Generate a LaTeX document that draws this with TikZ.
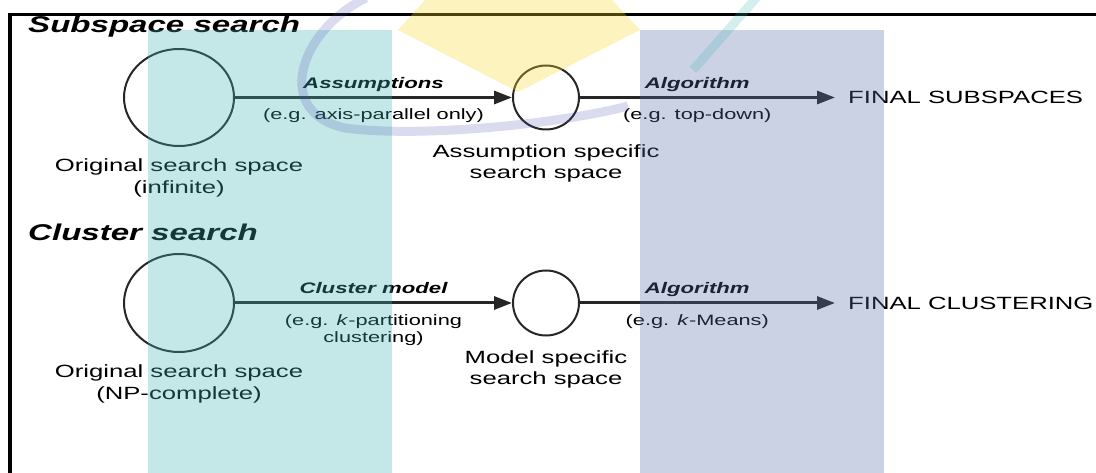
\documentclass[tikz,border=0pt]{standalone}
\usepackage{fontspec}
\setmainfont{Liberation Sans}[FakeStretch=1.45]
\usepackage{tikz}
\usetikzlibrary{arrows.meta,positioning,shapes.geometric}

\definecolor{bandteal}{RGB}{65,180,180}
\definecolor{bandblue}{RGB}{87,110,168}
\definecolor{markyellow}{RGB}{245,216,45}
\definecolor{marklilac}{RGB}{77,77,174}

\begin{document}
\begin{tikzpicture}[x=1pt,y=-1pt,
    spacecirc/.style={ellipse,draw=black!85,line width=2pt,inner sep=0pt},
    caption/.style={align=center,inner sep=0pt,outer sep=0pt,font=\fontsize{17.7}{21.5}\selectfont},
    heading/.style={anchor=base west,inner sep=0pt,font=\fontsize{22.8}{26}\selectfont\bfseries\itshape},
    flow/.style={line width=3pt,draw=black!85,-{Triangle[length=18pt,width=13pt]}},
    via/.style={anchor=base,inner sep=0pt,yshift=9pt,font=\fontsize{15.3}{18}\selectfont\bfseries\itshape},
    eg/.style={anchor=north,align=center,inner sep=0pt,yshift=-10pt,font=\fontsize{15}{17.5}\selectfont},
    result/.style={anchor=west,inner sep=0pt,font=\fontsize{17.7}{21.5}\selectfont},
    wash/.style={opacity=0.31}]
    \useasboundingbox (0,0) rectangle (1096,473);
    \draw[line width=4pt] (10,473) -- (10,13.5);
    \draw[line width=3pt] (8,15) -- (1096,15);

    \node[heading] (h1) at (28,33) {Subspace search};
    \node[spacecirc,minimum width=110pt,minimum height=97pt] (c1) at (179,97.5) {};
    \node[spacecirc,minimum width=66pt,minimum height=64pt] (c2) at (546,97.5) {};
    \coordinate (e1) at (835,97.5);
    \node[result,right=13pt of e1] (f1) {FINAL SUBSPACES};
    \node[caption,below=12pt of c1] (l1) {Original search space\\(infinite)};
    \node[caption,below=14pt of c2] (l2) {Assumption specific\\search space};
    \draw[flow] (c1) -- node[via] {Assumptions} node[eg] {(e.g. axis-parallel only)} (c2);
    \draw[flow] (c2) -- node[via,pos=.46] {Algorithm} node[eg,pos=.46] {(e.g. top-down)} (e1);

    \node[heading] (h2) at (28,241) {Cluster search};
    \node[spacecirc,minimum width=110pt,minimum height=98pt] (c3) at (179,303) {};
    \node[spacecirc,minimum width=66pt,minimum height=65pt] (c4) at (546,303) {};
    \coordinate (e2) at (835,303);
    \node[result,right=13pt of e2] (f2) {FINAL CLUSTERING};
    \node[caption,below=12pt of c3] (l3) {Original search space\\(NP-complete)};
    \node[caption,below=14pt of c4] (l4) {Model specific\\search space};
    \draw[flow] (c3) -- node[via] {Cluster model} node[eg] {(e.g. \textit{k}-partitioning\\clustering)} (c4);
    \draw[flow] (c4) -- node[via,pos=.46] {Algorithm} node[eg,pos=.46] {(e.g. \textit{k}-Means)} (e2);

    \fill[bandteal,wash] (148,30) rectangle (392,473);
    \fill[bandblue,wash] (640,30) rectangle (884,473);
    \fill[markyellow,wash] (425,0) -- (612,0) -- (640,30) -- (518,92) -- (398,30) -- cycle;
    \draw[marklilac,opacity=0.2,line width=9pt] (366,-2) .. controls (300,30) and (272,112) .. (345,128) .. controls (420,138) and (560,124) .. (628,106);
    \draw[bandteal,opacity=0.22,line width=9pt] (757,-3) -- (693,70);
\end{tikzpicture}
\end{document}
